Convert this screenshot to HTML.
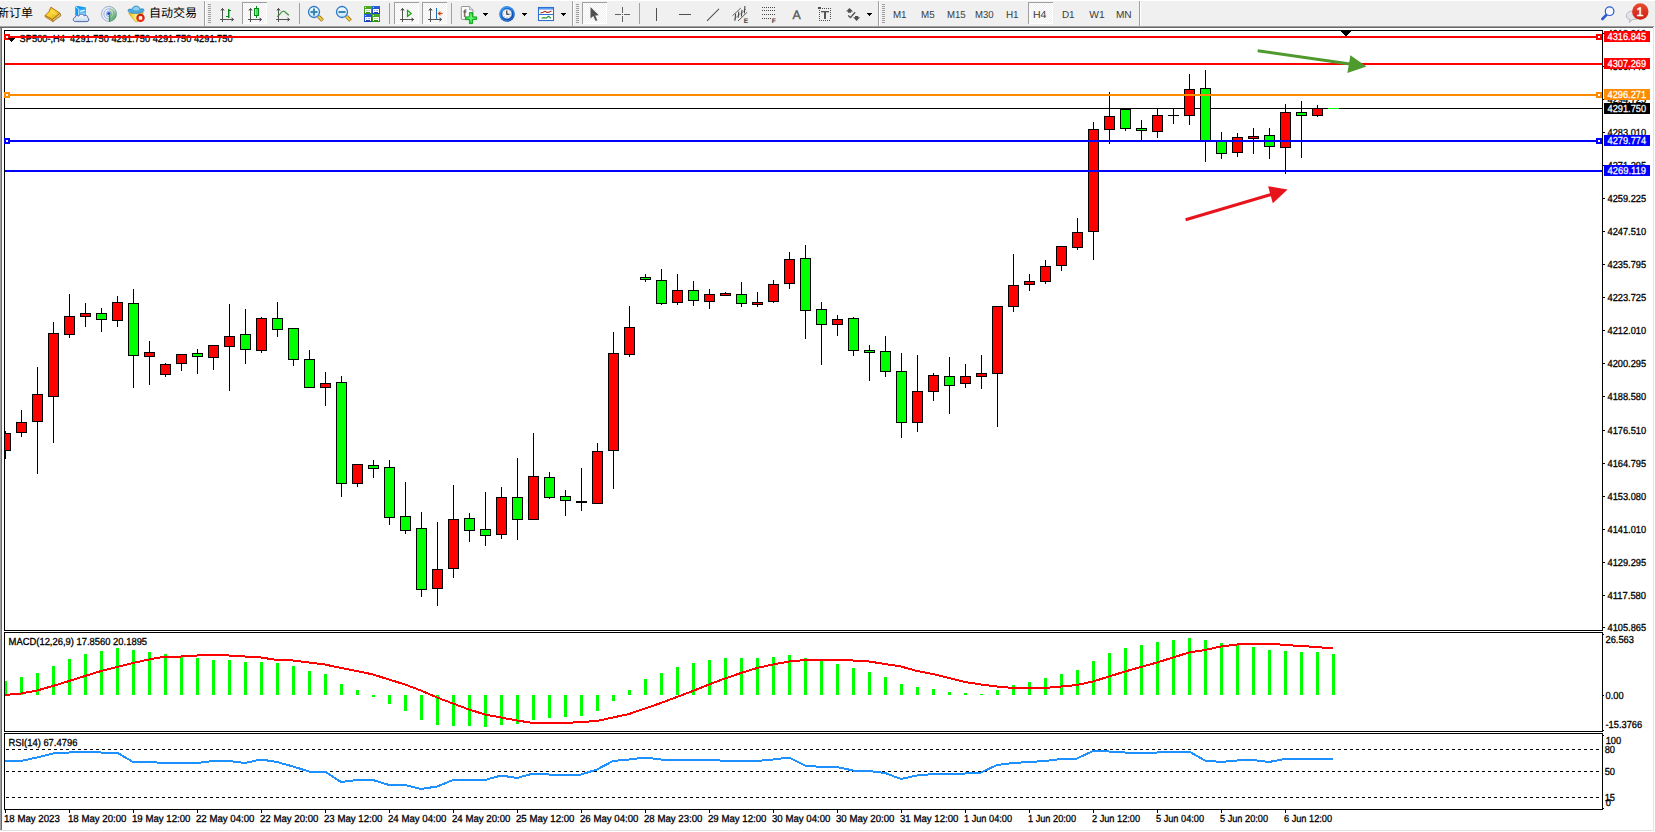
<!DOCTYPE html>
<html lang="zh"><head><meta charset="utf-8"><title>SP500 H4</title>
<style>html,body{margin:0;padding:0;background:#fff;overflow:hidden}body{width:1655px;height:832px;position:relative}svg{position:absolute;left:0;top:0;display:block}text{font-family:"Liberation Sans","Noto Sans CJK SC",sans-serif;white-space:pre;text-rendering:geometricPrecision}.cr{shape-rendering:crispEdges}</style></head><body>
<svg width="1655" height="832" viewBox="0 0 1655 832">
<rect x="0" y="0" width="1655" height="832" fill="#fff"/>
<g class="cr">
<rect x="0" y="28" width="1" height="804" fill="#a0a0a0"/>
<rect x="1" y="28" width="1" height="804" fill="#696969"/>
<rect x="1653" y="28" width="1" height="803" fill="#e3e3e3"/>
<rect x="0" y="830" width="1654" height="1" fill="#e3e3e3"/>
<rect x="0" y="831" width="1655" height="1" fill="#fff"/>
<rect x="4" y="30" width="1599" height="1" fill="#000"/>
<rect x="4" y="630" width="1599" height="1" fill="#000"/>
<rect x="4" y="30" width="1" height="601" fill="#000"/>
<rect x="1602" y="30" width="1" height="601" fill="#000"/>
<rect x="4" y="632" width="1599" height="1" fill="#000"/>
<rect x="4" y="731" width="1599" height="1" fill="#000"/>
<rect x="4" y="632" width="1" height="100" fill="#000"/>
<rect x="1602" y="632" width="1" height="100" fill="#000"/>
<rect x="4" y="733" width="1599" height="1" fill="#000"/>
<rect x="4" y="809" width="1599" height="1" fill="#000"/>
<rect x="4" y="733" width="1" height="77" fill="#000"/>
<rect x="1602" y="733" width="1" height="77" fill="#000"/>
<rect x="5" y="108" width="1598" height="1" fill="#000"/>
<rect x="5" y="431" width="1" height="28" fill="#000"/>
<rect x="0" y="433" width="11" height="18" fill="#000"/>
<rect x="1" y="434" width="9" height="16" fill="#ff0000"/>
<rect x="21" y="410" width="1" height="27" fill="#000"/>
<rect x="16" y="422" width="11" height="11" fill="#000"/>
<rect x="17" y="423" width="9" height="9" fill="#ff0000"/>
<rect x="37" y="367" width="1" height="107" fill="#000"/>
<rect x="32" y="394" width="11" height="28" fill="#000"/>
<rect x="33" y="395" width="9" height="26" fill="#ff0000"/>
<rect x="53" y="322" width="1" height="121" fill="#000"/>
<rect x="48" y="333" width="11" height="64" fill="#000"/>
<rect x="49" y="334" width="9" height="62" fill="#ff0000"/>
<rect x="69" y="294" width="1" height="44" fill="#000"/>
<rect x="64" y="316" width="11" height="19" fill="#000"/>
<rect x="65" y="317" width="9" height="17" fill="#ff0000"/>
<rect x="85" y="303" width="1" height="24" fill="#000"/>
<rect x="80" y="313" width="11" height="4" fill="#000"/>
<rect x="81" y="314" width="9" height="2" fill="#ff0000"/>
<rect x="101" y="308" width="1" height="24" fill="#000"/>
<rect x="96" y="313" width="11" height="7" fill="#000"/>
<rect x="97" y="314" width="9" height="5" fill="#00ff00"/>
<rect x="117" y="296" width="1" height="31" fill="#000"/>
<rect x="112" y="302" width="11" height="19" fill="#000"/>
<rect x="113" y="303" width="9" height="17" fill="#ff0000"/>
<rect x="133" y="289" width="1" height="99" fill="#000"/>
<rect x="128" y="303" width="11" height="53" fill="#000"/>
<rect x="129" y="304" width="9" height="51" fill="#00ff00"/>
<rect x="149" y="341" width="1" height="44" fill="#000"/>
<rect x="144" y="352" width="11" height="5" fill="#000"/>
<rect x="145" y="353" width="9" height="3" fill="#ff0000"/>
<rect x="165" y="363" width="1" height="14" fill="#000"/>
<rect x="160" y="364" width="11" height="11" fill="#000"/>
<rect x="161" y="365" width="9" height="9" fill="#ff0000"/>
<rect x="181" y="354" width="1" height="17" fill="#000"/>
<rect x="176" y="354" width="11" height="10" fill="#000"/>
<rect x="177" y="355" width="9" height="8" fill="#ff0000"/>
<rect x="197" y="349" width="1" height="25" fill="#000"/>
<rect x="192" y="353" width="11" height="4" fill="#000"/>
<rect x="193" y="354" width="9" height="2" fill="#00ff00"/>
<rect x="213" y="345" width="1" height="25" fill="#000"/>
<rect x="208" y="345" width="11" height="13" fill="#000"/>
<rect x="209" y="346" width="9" height="11" fill="#ff0000"/>
<rect x="229" y="304" width="1" height="87" fill="#000"/>
<rect x="224" y="336" width="11" height="11" fill="#000"/>
<rect x="225" y="337" width="9" height="9" fill="#ff0000"/>
<rect x="245" y="309" width="1" height="55" fill="#000"/>
<rect x="240" y="334" width="11" height="16" fill="#000"/>
<rect x="241" y="335" width="9" height="14" fill="#00ff00"/>
<rect x="261" y="317" width="1" height="36" fill="#000"/>
<rect x="256" y="318" width="11" height="33" fill="#000"/>
<rect x="257" y="319" width="9" height="31" fill="#ff0000"/>
<rect x="277" y="302" width="1" height="35" fill="#000"/>
<rect x="272" y="318" width="11" height="12" fill="#000"/>
<rect x="273" y="319" width="9" height="10" fill="#00ff00"/>
<rect x="293" y="328" width="1" height="38" fill="#000"/>
<rect x="288" y="328" width="11" height="32" fill="#000"/>
<rect x="289" y="329" width="9" height="30" fill="#00ff00"/>
<rect x="309" y="350" width="1" height="38" fill="#000"/>
<rect x="304" y="359" width="11" height="29" fill="#000"/>
<rect x="305" y="360" width="9" height="27" fill="#00ff00"/>
<rect x="325" y="372" width="1" height="34" fill="#000"/>
<rect x="320" y="383" width="11" height="5" fill="#000"/>
<rect x="321" y="384" width="9" height="3" fill="#ff0000"/>
<rect x="341" y="376" width="1" height="121" fill="#000"/>
<rect x="336" y="382" width="11" height="102" fill="#000"/>
<rect x="337" y="383" width="9" height="100" fill="#00ff00"/>
<rect x="357" y="464" width="1" height="23" fill="#000"/>
<rect x="352" y="464" width="11" height="20" fill="#000"/>
<rect x="353" y="465" width="9" height="18" fill="#ff0000"/>
<rect x="373" y="460" width="1" height="18" fill="#000"/>
<rect x="368" y="465" width="11" height="4" fill="#000"/>
<rect x="369" y="466" width="9" height="2" fill="#00ff00"/>
<rect x="389" y="460" width="1" height="65" fill="#000"/>
<rect x="384" y="467" width="11" height="51" fill="#000"/>
<rect x="385" y="468" width="9" height="49" fill="#00ff00"/>
<rect x="405" y="482" width="1" height="52" fill="#000"/>
<rect x="400" y="516" width="11" height="15" fill="#000"/>
<rect x="401" y="517" width="9" height="13" fill="#00ff00"/>
<rect x="421" y="512" width="1" height="85" fill="#000"/>
<rect x="416" y="528" width="11" height="62" fill="#000"/>
<rect x="417" y="529" width="9" height="60" fill="#00ff00"/>
<rect x="437" y="522" width="1" height="84" fill="#000"/>
<rect x="432" y="569" width="11" height="20" fill="#000"/>
<rect x="433" y="570" width="9" height="18" fill="#ff0000"/>
<rect x="453" y="485" width="1" height="93" fill="#000"/>
<rect x="448" y="519" width="11" height="50" fill="#000"/>
<rect x="449" y="520" width="9" height="48" fill="#ff0000"/>
<rect x="469" y="513" width="1" height="29" fill="#000"/>
<rect x="464" y="518" width="11" height="13" fill="#000"/>
<rect x="465" y="519" width="9" height="11" fill="#00ff00"/>
<rect x="485" y="492" width="1" height="54" fill="#000"/>
<rect x="480" y="529" width="11" height="7" fill="#000"/>
<rect x="481" y="530" width="9" height="5" fill="#00ff00"/>
<rect x="501" y="487" width="1" height="52" fill="#000"/>
<rect x="496" y="497" width="11" height="38" fill="#000"/>
<rect x="497" y="498" width="9" height="36" fill="#ff0000"/>
<rect x="517" y="458" width="1" height="82" fill="#000"/>
<rect x="512" y="497" width="11" height="23" fill="#000"/>
<rect x="513" y="498" width="9" height="21" fill="#00ff00"/>
<rect x="533" y="433" width="1" height="87" fill="#000"/>
<rect x="528" y="476" width="11" height="44" fill="#000"/>
<rect x="529" y="477" width="9" height="42" fill="#ff0000"/>
<rect x="549" y="472" width="1" height="27" fill="#000"/>
<rect x="544" y="477" width="11" height="21" fill="#000"/>
<rect x="545" y="478" width="9" height="19" fill="#00ff00"/>
<rect x="565" y="490" width="1" height="26" fill="#000"/>
<rect x="560" y="496" width="11" height="5" fill="#000"/>
<rect x="561" y="497" width="9" height="3" fill="#00ff00"/>
<rect x="581" y="468" width="1" height="43" fill="#000"/>
<rect x="576" y="501" width="11" height="2" fill="#000"/>
<rect x="597" y="443" width="1" height="61" fill="#000"/>
<rect x="592" y="451" width="11" height="53" fill="#000"/>
<rect x="593" y="452" width="9" height="51" fill="#ff0000"/>
<rect x="613" y="332" width="1" height="157" fill="#000"/>
<rect x="608" y="353" width="11" height="98" fill="#000"/>
<rect x="609" y="354" width="9" height="96" fill="#ff0000"/>
<rect x="629" y="306" width="1" height="51" fill="#000"/>
<rect x="624" y="327" width="11" height="28" fill="#000"/>
<rect x="625" y="328" width="9" height="26" fill="#ff0000"/>
<rect x="645" y="274" width="1" height="8" fill="#000"/>
<rect x="640" y="277" width="11" height="3" fill="#000"/>
<rect x="641" y="278" width="9" height="1" fill="#00ff00"/>
<rect x="661" y="269" width="1" height="36" fill="#000"/>
<rect x="656" y="280" width="11" height="24" fill="#000"/>
<rect x="657" y="281" width="9" height="22" fill="#00ff00"/>
<rect x="677" y="274" width="1" height="31" fill="#000"/>
<rect x="672" y="290" width="11" height="13" fill="#000"/>
<rect x="673" y="291" width="9" height="11" fill="#ff0000"/>
<rect x="693" y="281" width="1" height="25" fill="#000"/>
<rect x="688" y="290" width="11" height="11" fill="#000"/>
<rect x="689" y="291" width="9" height="9" fill="#00ff00"/>
<rect x="709" y="289" width="1" height="20" fill="#000"/>
<rect x="704" y="294" width="11" height="8" fill="#000"/>
<rect x="705" y="295" width="9" height="6" fill="#ff0000"/>
<rect x="725" y="292" width="1" height="4" fill="#000"/>
<rect x="720" y="293" width="11" height="3" fill="#000"/>
<rect x="721" y="294" width="9" height="1" fill="#ff0000"/>
<rect x="741" y="282" width="1" height="25" fill="#000"/>
<rect x="736" y="294" width="11" height="10" fill="#000"/>
<rect x="737" y="295" width="9" height="8" fill="#00ff00"/>
<rect x="757" y="292" width="1" height="15" fill="#000"/>
<rect x="752" y="302" width="11" height="3" fill="#000"/>
<rect x="753" y="303" width="9" height="1" fill="#ff0000"/>
<rect x="773" y="280" width="1" height="23" fill="#000"/>
<rect x="768" y="284" width="11" height="18" fill="#000"/>
<rect x="769" y="285" width="9" height="16" fill="#ff0000"/>
<rect x="789" y="252" width="1" height="37" fill="#000"/>
<rect x="784" y="259" width="11" height="25" fill="#000"/>
<rect x="785" y="260" width="9" height="23" fill="#ff0000"/>
<rect x="805" y="245" width="1" height="94" fill="#000"/>
<rect x="800" y="258" width="11" height="53" fill="#000"/>
<rect x="801" y="259" width="9" height="51" fill="#00ff00"/>
<rect x="821" y="302" width="1" height="63" fill="#000"/>
<rect x="816" y="309" width="11" height="16" fill="#000"/>
<rect x="817" y="310" width="9" height="14" fill="#00ff00"/>
<rect x="837" y="315" width="1" height="21" fill="#000"/>
<rect x="832" y="319" width="11" height="6" fill="#000"/>
<rect x="833" y="320" width="9" height="4" fill="#ff0000"/>
<rect x="853" y="317" width="1" height="39" fill="#000"/>
<rect x="848" y="318" width="11" height="33" fill="#000"/>
<rect x="849" y="319" width="9" height="31" fill="#00ff00"/>
<rect x="869" y="345" width="1" height="36" fill="#000"/>
<rect x="864" y="350" width="11" height="3" fill="#000"/>
<rect x="865" y="351" width="9" height="1" fill="#00ff00"/>
<rect x="885" y="336" width="1" height="41" fill="#000"/>
<rect x="880" y="351" width="11" height="21" fill="#000"/>
<rect x="881" y="352" width="9" height="19" fill="#00ff00"/>
<rect x="901" y="353" width="1" height="85" fill="#000"/>
<rect x="896" y="371" width="11" height="52" fill="#000"/>
<rect x="897" y="372" width="9" height="50" fill="#00ff00"/>
<rect x="917" y="355" width="1" height="77" fill="#000"/>
<rect x="912" y="391" width="11" height="32" fill="#000"/>
<rect x="913" y="392" width="9" height="30" fill="#ff0000"/>
<rect x="933" y="373" width="1" height="28" fill="#000"/>
<rect x="928" y="375" width="11" height="17" fill="#000"/>
<rect x="929" y="376" width="9" height="15" fill="#ff0000"/>
<rect x="949" y="357" width="1" height="57" fill="#000"/>
<rect x="944" y="376" width="11" height="10" fill="#000"/>
<rect x="945" y="377" width="9" height="8" fill="#00ff00"/>
<rect x="965" y="364" width="1" height="24" fill="#000"/>
<rect x="960" y="376" width="11" height="8" fill="#000"/>
<rect x="961" y="377" width="9" height="6" fill="#ff0000"/>
<rect x="981" y="355" width="1" height="34" fill="#000"/>
<rect x="976" y="373" width="11" height="4" fill="#000"/>
<rect x="977" y="374" width="9" height="2" fill="#ff0000"/>
<rect x="997" y="306" width="1" height="121" fill="#000"/>
<rect x="992" y="306" width="11" height="68" fill="#000"/>
<rect x="993" y="307" width="9" height="66" fill="#ff0000"/>
<rect x="1013" y="254" width="1" height="58" fill="#000"/>
<rect x="1008" y="285" width="11" height="22" fill="#000"/>
<rect x="1009" y="286" width="9" height="20" fill="#ff0000"/>
<rect x="1029" y="274" width="1" height="17" fill="#000"/>
<rect x="1024" y="281" width="11" height="4" fill="#000"/>
<rect x="1025" y="282" width="9" height="2" fill="#ff0000"/>
<rect x="1045" y="260" width="1" height="24" fill="#000"/>
<rect x="1040" y="266" width="11" height="16" fill="#000"/>
<rect x="1041" y="267" width="9" height="14" fill="#ff0000"/>
<rect x="1061" y="246" width="1" height="25" fill="#000"/>
<rect x="1056" y="246" width="11" height="20" fill="#000"/>
<rect x="1057" y="247" width="9" height="18" fill="#ff0000"/>
<rect x="1077" y="218" width="1" height="32" fill="#000"/>
<rect x="1072" y="232" width="11" height="16" fill="#000"/>
<rect x="1073" y="233" width="9" height="14" fill="#ff0000"/>
<rect x="1093" y="122" width="1" height="138" fill="#000"/>
<rect x="1088" y="129" width="11" height="103" fill="#000"/>
<rect x="1089" y="130" width="9" height="101" fill="#ff0000"/>
<rect x="1109" y="92" width="1" height="52" fill="#000"/>
<rect x="1104" y="116" width="11" height="14" fill="#000"/>
<rect x="1105" y="117" width="9" height="12" fill="#ff0000"/>
<rect x="1125" y="109" width="1" height="22" fill="#000"/>
<rect x="1120" y="109" width="11" height="20" fill="#000"/>
<rect x="1121" y="110" width="9" height="18" fill="#00ff00"/>
<rect x="1141" y="120" width="1" height="21" fill="#000"/>
<rect x="1136" y="128" width="11" height="3" fill="#000"/>
<rect x="1137" y="129" width="9" height="1" fill="#00ff00"/>
<rect x="1157" y="108" width="1" height="30" fill="#000"/>
<rect x="1152" y="115" width="11" height="17" fill="#000"/>
<rect x="1153" y="116" width="9" height="15" fill="#ff0000"/>
<rect x="1173" y="108" width="1" height="16" fill="#000"/>
<rect x="1168" y="115" width="11" height="1" fill="#000"/>
<rect x="1189" y="74" width="1" height="51" fill="#000"/>
<rect x="1184" y="89" width="11" height="27" fill="#000"/>
<rect x="1185" y="90" width="9" height="25" fill="#ff0000"/>
<rect x="1205" y="70" width="1" height="92" fill="#000"/>
<rect x="1200" y="88" width="11" height="53" fill="#000"/>
<rect x="1201" y="89" width="9" height="51" fill="#00ff00"/>
<rect x="1221" y="132" width="1" height="27" fill="#000"/>
<rect x="1216" y="140" width="11" height="14" fill="#000"/>
<rect x="1217" y="141" width="9" height="12" fill="#00ff00"/>
<rect x="1237" y="133" width="1" height="24" fill="#000"/>
<rect x="1232" y="137" width="11" height="16" fill="#000"/>
<rect x="1233" y="138" width="9" height="14" fill="#ff0000"/>
<rect x="1253" y="128" width="1" height="26" fill="#000"/>
<rect x="1248" y="136" width="11" height="3" fill="#000"/>
<rect x="1249" y="137" width="9" height="1" fill="#ff0000"/>
<rect x="1269" y="128" width="1" height="31" fill="#000"/>
<rect x="1264" y="135" width="11" height="12" fill="#000"/>
<rect x="1265" y="136" width="9" height="10" fill="#00ff00"/>
<rect x="1285" y="104" width="1" height="70" fill="#000"/>
<rect x="1280" y="112" width="11" height="36" fill="#000"/>
<rect x="1281" y="113" width="9" height="34" fill="#ff0000"/>
<rect x="1301" y="101" width="1" height="57" fill="#000"/>
<rect x="1296" y="112" width="11" height="4" fill="#000"/>
<rect x="1297" y="113" width="9" height="2" fill="#00ff00"/>
<rect x="1317" y="105" width="1" height="12" fill="#000"/>
<rect x="1312" y="108" width="11" height="8" fill="#000"/>
<rect x="1313" y="109" width="9" height="6" fill="#ff0000"/>
<rect x="1333" y="108" width="1" height="1" fill="#000"/>
<rect x="1328" y="108" width="11" height="1" fill="#00ff00"/>
<rect x="0" y="400" width="1" height="71" fill="#a0a0a0"/>
<rect x="1" y="400" width="1" height="71" fill="#696969"/>
<rect x="2" y="400" width="2" height="71" fill="#fff"/>
<rect x="4" y="400" width="1" height="71" fill="#000"/>
<rect x="5" y="36" width="1597" height="2" fill="#ff0000"/>
<rect x="5" y="63" width="1597" height="2" fill="#ff0000"/>
<rect x="5" y="94" width="1597" height="2" fill="#ff8c00"/>
<rect x="5" y="140" width="1597" height="2" fill="#0000ff"/>
<rect x="5" y="170" width="1597" height="2" fill="#0000ff"/>
</g>
<g class="cr">
<rect x="1603" y="33" width="2" height="1" fill="#000"/>
<rect x="1603" y="66" width="2" height="1" fill="#000"/>
<rect x="1603" y="99" width="2" height="1" fill="#000"/>
<rect x="1603" y="132" width="2" height="1" fill="#000"/>
<rect x="1603" y="165" width="2" height="1" fill="#000"/>
<rect x="1603" y="198" width="2" height="1" fill="#000"/>
<rect x="1603" y="231" width="2" height="1" fill="#000"/>
<rect x="1603" y="264" width="2" height="1" fill="#000"/>
<rect x="1603" y="297" width="2" height="1" fill="#000"/>
<rect x="1603" y="330" width="2" height="1" fill="#000"/>
<rect x="1603" y="363" width="2" height="1" fill="#000"/>
<rect x="1603" y="396" width="2" height="1" fill="#000"/>
<rect x="1603" y="430" width="2" height="1" fill="#000"/>
<rect x="1603" y="463" width="2" height="1" fill="#000"/>
<rect x="1603" y="496" width="2" height="1" fill="#000"/>
<rect x="1603" y="529" width="2" height="1" fill="#000"/>
<rect x="1603" y="562" width="2" height="1" fill="#000"/>
<rect x="1603" y="595" width="2" height="1" fill="#000"/>
<rect x="1603" y="627" width="2" height="1" fill="#000"/>
</g>
<text x="1607.5" y="37" fill="#000" font-size="10.2" text-anchor="start" textLength="38.6" lengthAdjust="spacingAndGlyphs" stroke="#000" stroke-width="0.3">4318.210</text>
<text x="1607.5" y="70" fill="#000" font-size="10.2" text-anchor="start" textLength="38.6" lengthAdjust="spacingAndGlyphs" stroke="#000" stroke-width="0.3">4306.440</text>
<text x="1607.5" y="103" fill="#000" font-size="10.2" text-anchor="start" textLength="38.6" lengthAdjust="spacingAndGlyphs" stroke="#000" stroke-width="0.3">4294.725</text>
<text x="1607.5" y="136" fill="#000" font-size="10.2" text-anchor="start" textLength="38.6" lengthAdjust="spacingAndGlyphs" stroke="#000" stroke-width="0.3">4283.010</text>
<text x="1607.5" y="169" fill="#000" font-size="10.2" text-anchor="start" textLength="38.6" lengthAdjust="spacingAndGlyphs" stroke="#000" stroke-width="0.3">4271.295</text>
<text x="1607.5" y="202" fill="#000" font-size="10.2" text-anchor="start" textLength="38.6" lengthAdjust="spacingAndGlyphs" stroke="#000" stroke-width="0.3">4259.225</text>
<text x="1607.5" y="235" fill="#000" font-size="10.2" text-anchor="start" textLength="38.6" lengthAdjust="spacingAndGlyphs" stroke="#000" stroke-width="0.3">4247.510</text>
<text x="1607.5" y="268" fill="#000" font-size="10.2" text-anchor="start" textLength="38.6" lengthAdjust="spacingAndGlyphs" stroke="#000" stroke-width="0.3">4235.795</text>
<text x="1607.5" y="301" fill="#000" font-size="10.2" text-anchor="start" textLength="38.6" lengthAdjust="spacingAndGlyphs" stroke="#000" stroke-width="0.3">4223.725</text>
<text x="1607.5" y="334" fill="#000" font-size="10.2" text-anchor="start" textLength="38.6" lengthAdjust="spacingAndGlyphs" stroke="#000" stroke-width="0.3">4212.010</text>
<text x="1607.5" y="367" fill="#000" font-size="10.2" text-anchor="start" textLength="38.6" lengthAdjust="spacingAndGlyphs" stroke="#000" stroke-width="0.3">4200.295</text>
<text x="1607.5" y="400" fill="#000" font-size="10.2" text-anchor="start" textLength="38.6" lengthAdjust="spacingAndGlyphs" stroke="#000" stroke-width="0.3">4188.580</text>
<text x="1607.5" y="434" fill="#000" font-size="10.2" text-anchor="start" textLength="38.6" lengthAdjust="spacingAndGlyphs" stroke="#000" stroke-width="0.3">4176.510</text>
<text x="1607.5" y="467" fill="#000" font-size="10.2" text-anchor="start" textLength="38.6" lengthAdjust="spacingAndGlyphs" stroke="#000" stroke-width="0.3">4164.795</text>
<text x="1607.5" y="500" fill="#000" font-size="10.2" text-anchor="start" textLength="38.6" lengthAdjust="spacingAndGlyphs" stroke="#000" stroke-width="0.3">4153.080</text>
<text x="1607.5" y="533" fill="#000" font-size="10.2" text-anchor="start" textLength="38.6" lengthAdjust="spacingAndGlyphs" stroke="#000" stroke-width="0.3">4141.010</text>
<text x="1607.5" y="566" fill="#000" font-size="10.2" text-anchor="start" textLength="38.6" lengthAdjust="spacingAndGlyphs" stroke="#000" stroke-width="0.3">4129.295</text>
<text x="1607.5" y="599" fill="#000" font-size="10.2" text-anchor="start" textLength="38.6" lengthAdjust="spacingAndGlyphs" stroke="#000" stroke-width="0.3">4117.580</text>
<text x="1607.5" y="631" fill="#000" font-size="10.2" text-anchor="start" textLength="38.6" lengthAdjust="spacingAndGlyphs" stroke="#000" stroke-width="0.3">4105.865</text>
<g class="cr">
<rect x="4" y="34" width="6" height="6" fill="#ff0000"/>
<rect x="6" y="36" width="2" height="2" fill="#fff"/>
<rect x="1596" y="34" width="6" height="6" fill="#ff0000"/>
<rect x="1598" y="36" width="2" height="2" fill="#fff"/>
<rect x="1604" y="31" width="46" height="11" fill="#ff0000"/>
<rect x="1604" y="58" width="46" height="11" fill="#ff0000"/>
<rect x="4" y="92" width="6" height="6" fill="#ff8c00"/>
<rect x="6" y="94" width="2" height="2" fill="#fff"/>
<rect x="1596" y="92" width="6" height="6" fill="#ff8c00"/>
<rect x="1598" y="94" width="2" height="2" fill="#fff"/>
<rect x="1604" y="89" width="46" height="11" fill="#ff8c00"/>
<rect x="4" y="138" width="6" height="6" fill="#0000ff"/>
<rect x="6" y="140" width="2" height="2" fill="#fff"/>
<rect x="1596" y="138" width="6" height="6" fill="#0000ff"/>
<rect x="1598" y="140" width="2" height="2" fill="#fff"/>
<rect x="1604" y="135" width="46" height="11" fill="#0000ff"/>
<rect x="1604" y="165" width="46" height="11" fill="#0000ff"/>
<rect x="1604" y="103" width="46" height="11" fill="#000"/>
<rect x="1341" y="31" width="10" height="1" fill="#000"/>
<rect x="1342" y="32" width="8" height="1" fill="#000"/>
<rect x="1343" y="33" width="6" height="1" fill="#000"/>
<rect x="1344" y="34" width="4" height="1" fill="#000"/>
<rect x="1345" y="35" width="2" height="1" fill="#000"/>
</g>
<text x="1607.5" y="40" fill="#fff" font-size="10.2" text-anchor="start" textLength="38.6" lengthAdjust="spacingAndGlyphs" stroke="#fff" stroke-width="0.25">4316.845</text>
<text x="1607.5" y="67" fill="#fff" font-size="10.2" text-anchor="start" textLength="38.6" lengthAdjust="spacingAndGlyphs" stroke="#fff" stroke-width="0.25">4307.269</text>
<text x="1607.5" y="98" fill="#fff" font-size="10.2" text-anchor="start" textLength="38.6" lengthAdjust="spacingAndGlyphs" stroke="#fff" stroke-width="0.25">4296.271</text>
<text x="1607.5" y="144" fill="#fff" font-size="10.2" text-anchor="start" textLength="38.6" lengthAdjust="spacingAndGlyphs" stroke="#fff" stroke-width="0.25">4279.774</text>
<text x="1607.5" y="174" fill="#fff" font-size="10.2" text-anchor="start" textLength="38.6" lengthAdjust="spacingAndGlyphs" stroke="#fff" stroke-width="0.25">4269.119</text>
<text x="1607.5" y="112" fill="#fff" font-size="10.2" text-anchor="start" textLength="38.6" lengthAdjust="spacingAndGlyphs" stroke="#fff" stroke-width="0.25">4291.750</text>
<line x1="1257.7" y1="50.7" x2="1350" y2="64" stroke="#4e9a2d" stroke-width="3"/>
<polygon points="1350.4,55.2 1366.5,66.4 1347.4,72.9" fill="#4e9a2d"/>
<line x1="1185.6" y1="219.7" x2="1271" y2="194.5" stroke="#e8141c" stroke-width="3"/>
<polygon points="1268.1,186.2 1287.6,189.4 1272.8,203.3" fill="#e8141c"/>
<g class="cr">
<rect x="8" y="38" width="7" height="1" fill="#000"/>
<rect x="9" y="39" width="5" height="1" fill="#000"/>
<rect x="10" y="40" width="3" height="1" fill="#000"/>
<rect x="11" y="41" width="1" height="1" fill="#000"/>
</g>
<text x="19.6" y="42" fill="#000" font-size="10.2" text-anchor="start" textLength="213" lengthAdjust="spacingAndGlyphs" stroke="#000" stroke-width="0.3">SP500-,H4  4291.750 4291.750 4291.750 4291.750</text>
<g class="cr">
<rect x="16" y="36" width="230" height="2" fill="#ff0000"/>
</g>
<g class="cr">
<rect x="4" y="681" width="3" height="14" fill="#00ff00"/>
<rect x="20" y="677" width="3" height="18" fill="#00ff00"/>
<rect x="36" y="673" width="3" height="22" fill="#00ff00"/>
<rect x="52" y="666" width="3" height="29" fill="#00ff00"/>
<rect x="68" y="659" width="3" height="36" fill="#00ff00"/>
<rect x="84" y="654" width="3" height="41" fill="#00ff00"/>
<rect x="100" y="651" width="3" height="44" fill="#00ff00"/>
<rect x="116" y="648" width="3" height="47" fill="#00ff00"/>
<rect x="132" y="650" width="3" height="45" fill="#00ff00"/>
<rect x="148" y="652" width="3" height="43" fill="#00ff00"/>
<rect x="164" y="654" width="3" height="41" fill="#00ff00"/>
<rect x="180" y="656" width="3" height="39" fill="#00ff00"/>
<rect x="196" y="658" width="3" height="37" fill="#00ff00"/>
<rect x="212" y="660" width="3" height="35" fill="#00ff00"/>
<rect x="228" y="660" width="3" height="35" fill="#00ff00"/>
<rect x="244" y="662" width="3" height="33" fill="#00ff00"/>
<rect x="260" y="662" width="3" height="33" fill="#00ff00"/>
<rect x="276" y="663" width="3" height="32" fill="#00ff00"/>
<rect x="292" y="666" width="3" height="29" fill="#00ff00"/>
<rect x="308" y="671" width="3" height="24" fill="#00ff00"/>
<rect x="324" y="674" width="3" height="21" fill="#00ff00"/>
<rect x="340" y="684" width="3" height="11" fill="#00ff00"/>
<rect x="356" y="690" width="3" height="5" fill="#00ff00"/>
<rect x="372" y="695" width="3" height="2" fill="#00ff00"/>
<rect x="388" y="695" width="3" height="9" fill="#00ff00"/>
<rect x="404" y="695" width="3" height="16" fill="#00ff00"/>
<rect x="420" y="695" width="3" height="25" fill="#00ff00"/>
<rect x="436" y="695" width="3" height="30" fill="#00ff00"/>
<rect x="452" y="695" width="3" height="31" fill="#00ff00"/>
<rect x="468" y="695" width="3" height="31" fill="#00ff00"/>
<rect x="484" y="695" width="3" height="32" fill="#00ff00"/>
<rect x="500" y="695" width="3" height="30" fill="#00ff00"/>
<rect x="516" y="695" width="3" height="29" fill="#00ff00"/>
<rect x="532" y="695" width="3" height="25" fill="#00ff00"/>
<rect x="548" y="695" width="3" height="23" fill="#00ff00"/>
<rect x="564" y="695" width="3" height="22" fill="#00ff00"/>
<rect x="580" y="695" width="3" height="21" fill="#00ff00"/>
<rect x="596" y="695" width="3" height="16" fill="#00ff00"/>
<rect x="612" y="695" width="3" height="6" fill="#00ff00"/>
<rect x="628" y="690" width="3" height="5" fill="#00ff00"/>
<rect x="644" y="679" width="3" height="16" fill="#00ff00"/>
<rect x="660" y="673" width="3" height="22" fill="#00ff00"/>
<rect x="676" y="667" width="3" height="28" fill="#00ff00"/>
<rect x="692" y="663" width="3" height="32" fill="#00ff00"/>
<rect x="708" y="660" width="3" height="35" fill="#00ff00"/>
<rect x="724" y="658" width="3" height="37" fill="#00ff00"/>
<rect x="740" y="658" width="3" height="37" fill="#00ff00"/>
<rect x="756" y="658" width="3" height="37" fill="#00ff00"/>
<rect x="772" y="657" width="3" height="38" fill="#00ff00"/>
<rect x="788" y="655" width="3" height="40" fill="#00ff00"/>
<rect x="804" y="658" width="3" height="37" fill="#00ff00"/>
<rect x="820" y="661" width="3" height="34" fill="#00ff00"/>
<rect x="836" y="664" width="3" height="31" fill="#00ff00"/>
<rect x="852" y="668" width="3" height="27" fill="#00ff00"/>
<rect x="868" y="672" width="3" height="23" fill="#00ff00"/>
<rect x="884" y="677" width="3" height="18" fill="#00ff00"/>
<rect x="900" y="684" width="3" height="11" fill="#00ff00"/>
<rect x="916" y="687" width="3" height="8" fill="#00ff00"/>
<rect x="932" y="689" width="3" height="6" fill="#00ff00"/>
<rect x="948" y="692" width="3" height="3" fill="#00ff00"/>
<rect x="964" y="693" width="3" height="2" fill="#00ff00"/>
<rect x="980" y="694" width="3" height="1" fill="#00ff00"/>
<rect x="996" y="690" width="3" height="5" fill="#00ff00"/>
<rect x="1012" y="685" width="3" height="10" fill="#00ff00"/>
<rect x="1028" y="682" width="3" height="13" fill="#00ff00"/>
<rect x="1044" y="678" width="3" height="17" fill="#00ff00"/>
<rect x="1060" y="674" width="3" height="21" fill="#00ff00"/>
<rect x="1076" y="670" width="3" height="25" fill="#00ff00"/>
<rect x="1092" y="661" width="3" height="34" fill="#00ff00"/>
<rect x="1108" y="653" width="3" height="42" fill="#00ff00"/>
<rect x="1124" y="648" width="3" height="47" fill="#00ff00"/>
<rect x="1140" y="645" width="3" height="50" fill="#00ff00"/>
<rect x="1156" y="642" width="3" height="53" fill="#00ff00"/>
<rect x="1172" y="640" width="3" height="55" fill="#00ff00"/>
<rect x="1188" y="638" width="3" height="57" fill="#00ff00"/>
<rect x="1204" y="640" width="3" height="55" fill="#00ff00"/>
<rect x="1220" y="643" width="3" height="52" fill="#00ff00"/>
<rect x="1236" y="645" width="3" height="50" fill="#00ff00"/>
<rect x="1252" y="647" width="3" height="48" fill="#00ff00"/>
<rect x="1268" y="650" width="3" height="45" fill="#00ff00"/>
<rect x="1284" y="651" width="3" height="44" fill="#00ff00"/>
<rect x="1300" y="652" width="3" height="43" fill="#00ff00"/>
<rect x="1316" y="652" width="3" height="43" fill="#00ff00"/>
<rect x="1332" y="654" width="3" height="41" fill="#00ff00"/>
</g>
<polyline class="cr" points="5,695.0 21,693.5 37,690.5 53,686.0 69,681.0 85,676.0 101,671.0 117,667.0 133,663.0 149,659.5 165,656.5 181,656.5 197,655.5 213,654.5 229,655.5 245,656.5 261,657.5 277,660.0 293,660.5 309,662.5 325,664.5 341,668.0 357,671.0 373,674.5 389,679.5 405,684.5 421,690.5 437,697.5 453,703.5 469,709.5 485,714.5 501,717.5 517,720.5 533,723.0 549,723.5 565,723.0 581,722.0 597,721.0 613,717.5 629,714.0 645,708.5 661,703.0 677,697.0 693,691.0 709,684.5 725,678.5 741,673.0 757,668.0 773,664.5 789,661.5 805,660.0 821,659.5 837,659.5 853,660.5 869,661.5 885,664.0 901,666.5 917,671.0 933,674.0 949,678.0 965,682.0 981,684.5 997,686.5 1013,688.0 1029,688.5 1045,688.0 1061,686.5 1077,685.0 1093,681.5 1109,676.5 1125,671.5 1141,667.0 1157,662.5 1173,657.5 1189,652.5 1205,650.0 1221,646.5 1237,644.5 1253,644.0 1269,643.5 1285,645.0 1301,646.0 1317,647.0 1333,648.5" fill="none" stroke="#ff0000" stroke-width="2" stroke-linejoin="round"/>
<g class="cr">
<rect x="4" y="632" width="1" height="100" fill="#000"/>
</g>
<text x="8.6" y="645" fill="#000" font-size="10.2" text-anchor="start" textLength="138.5" lengthAdjust="spacingAndGlyphs" stroke="#000" stroke-width="0.3">MACD(12,26,9) 17.8560 20.1895</text>
<text x="1605.5" y="643" fill="#000" font-size="10.2" text-anchor="start" textLength="28.45" lengthAdjust="spacingAndGlyphs" stroke="#000" stroke-width="0.3">26.563</text>
<text x="1605.5" y="699" fill="#000" font-size="10.2" text-anchor="start" textLength="18.1" lengthAdjust="spacingAndGlyphs" stroke="#000" stroke-width="0.3">0.00</text>
<text x="1605.5" y="728" fill="#000" font-size="10.2" text-anchor="start" textLength="36.72" lengthAdjust="spacingAndGlyphs" stroke="#000" stroke-width="0.3">-15.3766</text>
<g class="cr">
<rect x="1603" y="634" width="1" height="1" fill="#000"/>
<rect x="1603" y="695" width="1" height="1" fill="#000"/>
<rect x="1603" y="730" width="1" height="1" fill="#000"/>
</g>
<g class="cr">
<line x1="6" y1="749.5" x2="1602" y2="749.5" stroke="#000" stroke-width="1" stroke-dasharray="3 3"/>
<line x1="6" y1="771.5" x2="1602" y2="771.5" stroke="#000" stroke-width="1" stroke-dasharray="3 3"/>
<line x1="6" y1="797.5" x2="1602" y2="797.5" stroke="#000" stroke-width="1" stroke-dasharray="3 3"/>
</g>
<polyline class="cr" points="5,761 21,761 37,757.5 53,753.5 69,752.5 85,751.5 101,752.5 117,752.5 133,762 149,762 165,763 181,763 197,763 213,761 229,761 245,763 261,759.5 277,762 293,766.5 309,771.5 325,771.5 341,782 357,780 373,780 389,785 405,785 421,789 437,786.5 453,780 469,780 485,780 501,775.5 517,778 533,773.5 549,774.5 565,774.5 581,774.5 597,769.5 613,761 629,759.5 645,757.5 661,759.5 677,759.5 693,759.5 709,759.5 725,761 741,761 757,761 773,759.5 789,757.5 805,765.5 821,767 837,767 853,770.5 869,771 885,773 901,779 917,775.5 933,774 949,774 965,773.5 981,772.5 997,765 1013,763 1029,762 1045,761 1061,759 1077,758.5 1093,751 1109,751.5 1125,752.5 1141,752.5 1157,752.5 1173,751.5 1189,751.5 1205,760.5 1221,762 1237,760.5 1253,760 1269,762 1285,759 1301,758.5 1317,758.5 1333,758.5" fill="none" stroke="#1e90ff" stroke-width="2" stroke-linejoin="round"/>
<g class="cr">
<rect x="4" y="733" width="1" height="77" fill="#000"/>
</g>
<text x="8.4" y="746" fill="#000" font-size="10.2" text-anchor="start" textLength="69" lengthAdjust="spacingAndGlyphs" stroke="#000" stroke-width="0.3">RSI(14) 67.4796</text>
<text x="1605.7" y="744" fill="#000" font-size="10.2" text-anchor="start" textLength="15.52" lengthAdjust="spacingAndGlyphs" stroke="#000" stroke-width="0.3">100</text>
<text x="1604.7" y="753" fill="#000" font-size="10.2" text-anchor="start" textLength="10.34" lengthAdjust="spacingAndGlyphs" stroke="#000" stroke-width="0.3">80</text>
<text x="1604.7" y="775" fill="#000" font-size="10.2" text-anchor="start" textLength="10.34" lengthAdjust="spacingAndGlyphs" stroke="#000" stroke-width="0.3">50</text>
<text x="1604.7" y="801" fill="#000" font-size="10.2" text-anchor="start" textLength="10.34" lengthAdjust="spacingAndGlyphs" stroke="#000" stroke-width="0.3">15</text>
<text x="1605.7" y="806" fill="#000" font-size="10.2" text-anchor="start" textLength="5.17" lengthAdjust="spacingAndGlyphs" stroke="#000" stroke-width="0.3">0</text>
<g class="cr">
<rect x="1603" y="735" width="1" height="1" fill="#000"/>
<rect x="1603" y="808" width="1" height="1" fill="#000"/>
<rect x="5" y="809" width="1" height="4" fill="#000"/>
<rect x="69" y="809" width="1" height="4" fill="#000"/>
<rect x="133" y="809" width="1" height="4" fill="#000"/>
<rect x="197" y="809" width="1" height="4" fill="#000"/>
<rect x="261" y="809" width="1" height="4" fill="#000"/>
<rect x="325" y="809" width="1" height="4" fill="#000"/>
<rect x="389" y="809" width="1" height="4" fill="#000"/>
<rect x="453" y="809" width="1" height="4" fill="#000"/>
<rect x="517" y="809" width="1" height="4" fill="#000"/>
<rect x="581" y="809" width="1" height="4" fill="#000"/>
<rect x="645" y="809" width="1" height="4" fill="#000"/>
<rect x="709" y="809" width="1" height="4" fill="#000"/>
<rect x="773" y="809" width="1" height="4" fill="#000"/>
<rect x="837" y="809" width="1" height="4" fill="#000"/>
<rect x="901" y="809" width="1" height="4" fill="#000"/>
<rect x="965" y="809" width="1" height="4" fill="#000"/>
<rect x="1029" y="809" width="1" height="4" fill="#000"/>
<rect x="1093" y="809" width="1" height="4" fill="#000"/>
<rect x="1157" y="809" width="1" height="4" fill="#000"/>
<rect x="1221" y="809" width="1" height="4" fill="#000"/>
<rect x="1285" y="809" width="1" height="4" fill="#000"/>
</g>
<text x="4" y="822" fill="#000" font-size="10.2" text-anchor="start" textLength="55.8" lengthAdjust="spacingAndGlyphs" stroke="#000" stroke-width="0.3">18 May 2023</text>
<text x="68" y="822" fill="#000" font-size="10.2" text-anchor="start" textLength="58.48" lengthAdjust="spacingAndGlyphs" stroke="#000" stroke-width="0.3">18 May 20:00</text>
<text x="132" y="822" fill="#000" font-size="10.2" text-anchor="start" textLength="58.48" lengthAdjust="spacingAndGlyphs" stroke="#000" stroke-width="0.3">19 May 12:00</text>
<text x="196" y="822" fill="#000" font-size="10.2" text-anchor="start" textLength="58.48" lengthAdjust="spacingAndGlyphs" stroke="#000" stroke-width="0.3">22 May 04:00</text>
<text x="260" y="822" fill="#000" font-size="10.2" text-anchor="start" textLength="58.48" lengthAdjust="spacingAndGlyphs" stroke="#000" stroke-width="0.3">22 May 20:00</text>
<text x="324" y="822" fill="#000" font-size="10.2" text-anchor="start" textLength="58.48" lengthAdjust="spacingAndGlyphs" stroke="#000" stroke-width="0.3">23 May 12:00</text>
<text x="388" y="822" fill="#000" font-size="10.2" text-anchor="start" textLength="58.48" lengthAdjust="spacingAndGlyphs" stroke="#000" stroke-width="0.3">24 May 04:00</text>
<text x="452" y="822" fill="#000" font-size="10.2" text-anchor="start" textLength="58.48" lengthAdjust="spacingAndGlyphs" stroke="#000" stroke-width="0.3">24 May 20:00</text>
<text x="516" y="822" fill="#000" font-size="10.2" text-anchor="start" textLength="58.48" lengthAdjust="spacingAndGlyphs" stroke="#000" stroke-width="0.3">25 May 12:00</text>
<text x="580" y="822" fill="#000" font-size="10.2" text-anchor="start" textLength="58.48" lengthAdjust="spacingAndGlyphs" stroke="#000" stroke-width="0.3">26 May 04:00</text>
<text x="644" y="822" fill="#000" font-size="10.2" text-anchor="start" textLength="58.48" lengthAdjust="spacingAndGlyphs" stroke="#000" stroke-width="0.3">28 May 23:00</text>
<text x="708" y="822" fill="#000" font-size="10.2" text-anchor="start" textLength="58.48" lengthAdjust="spacingAndGlyphs" stroke="#000" stroke-width="0.3">29 May 12:00</text>
<text x="772" y="822" fill="#000" font-size="10.2" text-anchor="start" textLength="58.48" lengthAdjust="spacingAndGlyphs" stroke="#000" stroke-width="0.3">30 May 04:00</text>
<text x="836" y="822" fill="#000" font-size="10.2" text-anchor="start" textLength="58.48" lengthAdjust="spacingAndGlyphs" stroke="#000" stroke-width="0.3">30 May 20:00</text>
<text x="900" y="822" fill="#000" font-size="10.2" text-anchor="start" textLength="58.48" lengthAdjust="spacingAndGlyphs" stroke="#000" stroke-width="0.3">31 May 12:00</text>
<text x="964" y="822" fill="#000" font-size="10.2" text-anchor="start" textLength="48.02" lengthAdjust="spacingAndGlyphs" stroke="#000" stroke-width="0.3">1 Jun 04:00</text>
<text x="1028" y="822" fill="#000" font-size="10.2" text-anchor="start" textLength="48.02" lengthAdjust="spacingAndGlyphs" stroke="#000" stroke-width="0.3">1 Jun 20:00</text>
<text x="1092" y="822" fill="#000" font-size="10.2" text-anchor="start" textLength="48.02" lengthAdjust="spacingAndGlyphs" stroke="#000" stroke-width="0.3">2 Jun 12:00</text>
<text x="1156" y="822" fill="#000" font-size="10.2" text-anchor="start" textLength="48.02" lengthAdjust="spacingAndGlyphs" stroke="#000" stroke-width="0.3">5 Jun 04:00</text>
<text x="1220" y="822" fill="#000" font-size="10.2" text-anchor="start" textLength="48.02" lengthAdjust="spacingAndGlyphs" stroke="#000" stroke-width="0.3">5 Jun 20:00</text>
<text x="1284" y="822" fill="#000" font-size="10.2" text-anchor="start" textLength="48.02" lengthAdjust="spacingAndGlyphs" stroke="#000" stroke-width="0.3">6 Jun 12:00</text>
<g id="toolbar">
<defs><pattern id="chk" width="2" height="2" patternUnits="userSpaceOnUse"><rect width="2" height="2" fill="#f0f0f0"/><rect width="1" height="1" fill="#fff"/><rect x="1" y="1" width="1" height="1" fill="#fff"/></pattern><linearGradient id="gold" x1="0" y1="0" x2="1" y2="1"><stop offset="0" stop-color="#e4ac12"/><stop offset=".45" stop-color="#ffd832"/><stop offset="1" stop-color="#cc900c"/></linearGradient><linearGradient id="lens" x1="0" y1="0" x2="0" y2="1"><stop offset="0" stop-color="#f4fbff"/><stop offset="1" stop-color="#c4e6f8"/></linearGradient><linearGradient id="grn" x1="0" y1="0" x2="0" y2="1"><stop offset="0" stop-color="#4fb02a"/><stop offset="1" stop-color="#2f8f12"/></linearGradient><linearGradient id="blu" x1="0" y1="0" x2="0" y2="1"><stop offset="0" stop-color="#2a62e0"/><stop offset="1" stop-color="#1a3fb8"/></linearGradient><linearGradient id="badge" x1="0" y1="0" x2="0" y2="1"><stop offset="0" stop-color="#ea4a30"/><stop offset="1" stop-color="#cf1f10"/></linearGradient><linearGradient id="clk" x1=".2" y1="0" x2=".8" y2="1"><stop offset="0" stop-color="#2f92f4"/><stop offset=".55" stop-color="#0f62d0"/><stop offset="1" stop-color="#063c9c"/></linearGradient><radialGradient id="plusg" cx=".5" cy=".45" r=".6"><stop offset="0" stop-color="#6cff7c"/><stop offset="1" stop-color="#0ed02a"/></radialGradient><linearGradient id="cloud" x1="0" y1="0" x2="0" y2="1"><stop offset="0" stop-color="#ffffff"/><stop offset="1" stop-color="#c5d6ee"/></linearGradient><linearGradient id="srv" x1="0" y1="0" x2="1" y2="0"><stop offset="0" stop-color="#0f8df5"/><stop offset="1" stop-color="#6ec3ff"/></linearGradient><linearGradient id="sig" x1="0" y1="0" x2=".6" y2="1"><stop offset="0" stop-color="#d4e8d4" stop-opacity=".55"/><stop offset=".5" stop-color="#a8d0a8" stop-opacity=".75"/><stop offset="1" stop-color="#2fa030" stop-opacity=".95"/></linearGradient><linearGradient id="gold2" x1="0" y1="0" x2="1" y2="0"><stop offset="0" stop-color="#e8b418"/><stop offset=".5" stop-color="#fff080"/><stop offset="1" stop-color="#e8b418"/></linearGradient><radialGradient id="stopg" cx=".5" cy=".6" r=".6"><stop offset="0" stop-color="#ff3a10"/><stop offset="1" stop-color="#c81808"/></radialGradient></defs>
<g class="cr">
<rect x="0" y="0" width="1655" height="1" fill="#fff"/>
<rect x="0" y="1" width="1655" height="25" fill="#f0f0f0"/>
<rect x="0" y="26" width="1654" height="1" fill="#a0a0a0"/>
<rect x="0" y="27" width="1653" height="1" fill="#696969"/>
<rect x="1654" y="26" width="1" height="2" fill="#f0f0f0"/>
<rect x="204" y="1" width="1" height="25" fill="#a0a0a0"/>
<rect x="205" y="1" width="1" height="25" fill="#fff"/>
<rect x="208" y="4" width="3" height="1" fill="#a0a0a0"/>
<rect x="208" y="6" width="3" height="1" fill="#a0a0a0"/>
<rect x="208" y="8" width="3" height="1" fill="#a0a0a0"/>
<rect x="208" y="10" width="3" height="1" fill="#a0a0a0"/>
<rect x="208" y="12" width="3" height="1" fill="#a0a0a0"/>
<rect x="208" y="14" width="3" height="1" fill="#a0a0a0"/>
<rect x="208" y="16" width="3" height="1" fill="#a0a0a0"/>
<rect x="208" y="18" width="3" height="1" fill="#a0a0a0"/>
<rect x="208" y="20" width="3" height="1" fill="#a0a0a0"/>
<rect x="208" y="22" width="3" height="1" fill="#a0a0a0"/>
<rect x="242" y="2" width="25" height="22" fill="url(#chk)"/>
<rect x="242" y="2" width="25" height="1" fill="#a0a0a0"/>
<rect x="242" y="2" width="1" height="22" fill="#a0a0a0"/>
<rect x="266" y="3" width="1" height="21" fill="#fff"/>
<rect x="243" y="23" width="24" height="1" fill="#fff"/>
<rect x="299" y="3" width="1" height="21" fill="#a0a0a0"/>
<rect x="389" y="3" width="1" height="21" fill="#a0a0a0"/>
<rect x="394" y="2" width="25" height="22" fill="url(#chk)"/>
<rect x="394" y="2" width="25" height="1" fill="#a0a0a0"/>
<rect x="394" y="2" width="1" height="22" fill="#a0a0a0"/>
<rect x="418" y="3" width="1" height="21" fill="#fff"/>
<rect x="395" y="23" width="24" height="1" fill="#fff"/>
<rect x="422" y="2" width="25" height="22" fill="url(#chk)"/>
<rect x="422" y="2" width="25" height="1" fill="#a0a0a0"/>
<rect x="422" y="2" width="1" height="22" fill="#a0a0a0"/>
<rect x="446" y="3" width="1" height="21" fill="#fff"/>
<rect x="423" y="23" width="24" height="1" fill="#fff"/>
<rect x="451" y="3" width="1" height="21" fill="#a0a0a0"/>
<rect x="572" y="1" width="1" height="25" fill="#a0a0a0"/>
<rect x="573" y="1" width="1" height="25" fill="#fff"/>
<rect x="576" y="4" width="3" height="1" fill="#a0a0a0"/>
<rect x="576" y="6" width="3" height="1" fill="#a0a0a0"/>
<rect x="576" y="8" width="3" height="1" fill="#a0a0a0"/>
<rect x="576" y="10" width="3" height="1" fill="#a0a0a0"/>
<rect x="576" y="12" width="3" height="1" fill="#a0a0a0"/>
<rect x="576" y="14" width="3" height="1" fill="#a0a0a0"/>
<rect x="576" y="16" width="3" height="1" fill="#a0a0a0"/>
<rect x="576" y="18" width="3" height="1" fill="#a0a0a0"/>
<rect x="576" y="20" width="3" height="1" fill="#a0a0a0"/>
<rect x="576" y="22" width="3" height="1" fill="#a0a0a0"/>
<rect x="582" y="2" width="25" height="22" fill="url(#chk)"/>
<rect x="582" y="2" width="25" height="1" fill="#a0a0a0"/>
<rect x="582" y="2" width="1" height="22" fill="#a0a0a0"/>
<rect x="606" y="3" width="1" height="21" fill="#fff"/>
<rect x="583" y="23" width="24" height="1" fill="#fff"/>
<rect x="639" y="3" width="1" height="21" fill="#a0a0a0"/>
<rect x="878" y="1" width="1" height="25" fill="#a0a0a0"/>
<rect x="879" y="1" width="1" height="25" fill="#fff"/>
<rect x="882" y="4" width="3" height="1" fill="#a0a0a0"/>
<rect x="882" y="6" width="3" height="1" fill="#a0a0a0"/>
<rect x="882" y="8" width="3" height="1" fill="#a0a0a0"/>
<rect x="882" y="10" width="3" height="1" fill="#a0a0a0"/>
<rect x="882" y="12" width="3" height="1" fill="#a0a0a0"/>
<rect x="882" y="14" width="3" height="1" fill="#a0a0a0"/>
<rect x="882" y="16" width="3" height="1" fill="#a0a0a0"/>
<rect x="882" y="18" width="3" height="1" fill="#a0a0a0"/>
<rect x="882" y="20" width="3" height="1" fill="#a0a0a0"/>
<rect x="882" y="22" width="3" height="1" fill="#a0a0a0"/>
<rect x="1028" y="2" width="25" height="22" fill="url(#chk)"/>
<rect x="1028" y="2" width="25" height="1" fill="#a0a0a0"/>
<rect x="1028" y="2" width="1" height="22" fill="#a0a0a0"/>
<rect x="1052" y="3" width="1" height="21" fill="#fff"/>
<rect x="1029" y="23" width="24" height="1" fill="#fff"/>
<rect x="1139" y="1" width="1" height="25" fill="#a0a0a0"/>
<rect x="1140" y="1" width="1" height="25" fill="#fff"/>
</g>
<text x="-3" y="16.7" font-size="12" fill="#000">新订单</text>
<text x="149" y="16.7" font-size="12" fill="#000">自动交易</text>
<text x="892.95" y="18" font-size="10.2" fill="#3c3c3c" textLength="13.65" lengthAdjust="spacingAndGlyphs">M1</text>
<text x="921.00" y="18" font-size="10.2" fill="#3c3c3c" textLength="13.60" lengthAdjust="spacingAndGlyphs">M5</text>
<text x="946.90" y="18" font-size="10.2" fill="#3c3c3c" textLength="18.70" lengthAdjust="spacingAndGlyphs">M15</text>
<text x="975.00" y="18" font-size="10.2" fill="#3c3c3c" textLength="18.60" lengthAdjust="spacingAndGlyphs">M30</text>
<text x="1005.90" y="18" font-size="10.2" fill="#3c3c3c" textLength="12.70" lengthAdjust="spacingAndGlyphs">H1</text>
<text x="1032.95" y="18" font-size="10.2" fill="#3c3c3c" textLength="13.45" lengthAdjust="spacingAndGlyphs">H4</text>
<text x="1061.90" y="18" font-size="10.2" fill="#3c3c3c" textLength="12.70" lengthAdjust="spacingAndGlyphs">D1</text>
<text x="1089.20" y="18" font-size="10.2" fill="#3c3c3c" textLength="15.40" lengthAdjust="spacingAndGlyphs">W1</text>
<text x="1115.90" y="18" font-size="10.2" fill="#3c3c3c" textLength="15.70" lengthAdjust="spacingAndGlyphs">MN</text>
<g stroke-linejoin="round"><path d="M60,13.2 L60.9,15.7 L52.9,21.6 L52.4,19.4 Z" fill="#d8c078" stroke="#9a6408" stroke-width=".8"/><path d="M45.2,15.4 L52.4,19.5 L52.9,21.6 L45.1,16.8 Z" fill="#f4d060" stroke="#a56a08" stroke-width=".8"/><path d="M50.9,7.2 L60,13.2 L52.4,19.5 L45.2,15.4 Q49.6,12.2 50.9,7.2 Z" fill="url(#gold)" stroke="#a56a08" stroke-width=".9"/><path d="M50.6,10.5 Q52,12.5 56.5,14.6" stroke="#fff2a0" stroke-width="1.2" fill="none" opacity=".55"/></g>
<g><path d="M75.2,6.6 L78.2,6 L86,7.4 L86,15.5 L75.2,15.5 Z" fill="#0f9bf5"/><path d="M78.8,9 L86,8 L86,15.5 L78.8,15.5 Z" fill="#36adff"/><path d="M75.6,6.9 L78.7,9.1 L78.7,15.5" stroke="#e8f6ff" stroke-width=".8" fill="none"/><path d="M80.2,11.3 L84.8,10.4" stroke="#fff" stroke-width="1.3"/><rect x="80" y="12.6" width="5.4" height="2" fill="#8fd0ff"/><path d="M75.4,21.6 C72.6,21.6 72.6,17.6 75.2,17.3 C75.2,15.4 77.8,15 78.8,16.2 C79.4,13.8 83.4,13.6 84.4,16 C85.8,14.8 88.2,15.6 87.8,17.8 C89.5,18.6 89.2,21.6 87,21.6 Z" fill="url(#cloud)" stroke="#3f5f9f" stroke-width=".9"/></g>
<g fill="none"><path d="M109,13.9 L109,6.2 A7.7,7.7 0 0 1 109,21.6 Z" fill="url(#sig)" stroke="none"/><g stroke="#3f6fd8" stroke-width="1" opacity=".5"><path d="M109,6.4 A7.5,7.5 0 0 0 109,21.4"/><path d="M109,8.8 A5.1,5.1 0 0 0 109,19"/><path d="M109,11.1 A2.8,2.8 0 0 0 109,16.7"/></g><g stroke="#3a78a8" stroke-width="1" opacity=".45"><path d="M109,6.4 A7.5,7.5 0 0 1 109,21.4"/><path d="M109,8.8 A5.1,5.1 0 0 1 109,19"/><path d="M109,11.1 A2.8,2.8 0 0 1 109,16.7"/></g><circle cx="108.8" cy="13.6" r="1.7" fill="#2456d0" stroke="none"/><path d="M109.6,14 L109.6,21.9" stroke="#22a022" stroke-width="1.3"/></g>
<g><path d="M128.6,13.2 L143.5,12.6 L137.4,21.8 L135,21.4 Z" fill="url(#gold2)" stroke="#c8980f" stroke-width=".6"/><path d="M128,10.6 C128,8.6 131,9 132.2,9.4 C132.4,5 139.6,4.8 140,9.2 C141.4,8.6 144.2,8.4 144,10.2 C143.6,12.4 139,13.6 135.6,13.4 C132,13.4 128,12.6 128,10.6 Z" fill="#4fa8dc" stroke="#2a86b8" stroke-width=".7"/><path d="M132.8,9.6 C133.2,6 139,5.8 139.4,9.4 C137.6,10.6 134.6,10.8 132.8,9.6 Z" fill="#8fd0f4"/><circle cx="140.5" cy="17.9" r="4.2" fill="url(#stopg)"/><rect x="138.8" y="16.2" width="3.4" height="3.4" fill="#fff"/></g>
<g class="cr" fill="#555"><rect x="222" y="8" width="1" height="14"/><rect x="220" y="19" width="14" height="1"/><rect x="221" y="9" width="3" height="1"/><rect x="232" y="18" width="1" height="3"/></g><g class="cr" fill="#555" opacity=".3"><rect x="220" y="10" width="5" height="1"/><rect x="231" y="17" width="1" height="5"/></g>
<g class="cr" fill="#0a8a1a"><rect x="228" y="9" width="1" height="9"/><rect x="229" y="9" width="1" height="9" opacity=".45"/><rect x="229" y="10" width="2" height="1"/><rect x="226" y="16" width="2" height="1"/></g>
<g class="cr" fill="#555"><rect x="250" y="8" width="1" height="14"/><rect x="248" y="19" width="14" height="1"/><rect x="249" y="9" width="3" height="1"/><rect x="260" y="18" width="1" height="3"/></g><g class="cr" fill="#555" opacity=".3"><rect x="248" y="10" width="5" height="1"/><rect x="259" y="17" width="1" height="5"/></g>
<g class="cr"><rect x="256" y="6" width="1" height="12" fill="#0a8a1a"/><rect x="254" y="8" width="5" height="8" fill="#0a8a1a"/><rect x="255" y="9" width="3" height="6" fill="#3ee05a"/><rect x="255" y="9" width="1" height="6" fill="#8af09a"/></g>
<g class="cr" fill="#555"><rect x="278" y="8" width="1" height="14"/><rect x="276" y="19" width="14" height="1"/><rect x="277" y="9" width="3" height="1"/><rect x="288" y="18" width="1" height="3"/></g><g class="cr" fill="#555" opacity=".3"><rect x="276" y="10" width="5" height="1"/><rect x="287" y="17" width="1" height="5"/></g>
<path d="M277.2,16.8 C280,14.5 281.5,11.2 283.4,11.2 C285.5,11.2 286.5,14.2 289,15.2" stroke="#2a8a2a" stroke-width="1.3" fill="none" opacity=".85"/>
<path d="M318.4,16.3 L322.6,20.5" stroke="#a87810" stroke-width="3.6"/><path d="M318.4,16.3 L322.2,20.1" stroke="#f2d648" stroke-width="1.7"/><circle cx="314" cy="12" r="5.5" fill="url(#lens)" stroke="#2f78c8" stroke-width="1.3"/><path d="M310.5,12 H317.5" stroke="#3a86b0" stroke-width="2"/><path d="M314,8.5 V15.5" stroke="#3a86b0" stroke-width="2"/>
<path d="M346.4,16.3 L350.6,20.5" stroke="#a87810" stroke-width="3.6"/><path d="M346.4,16.3 L350.2,20.1" stroke="#f2d648" stroke-width="1.7"/><circle cx="342" cy="12" r="5.5" fill="url(#lens)" stroke="#2f78c8" stroke-width="1.3"/><path d="M338.5,12 H345.5" stroke="#3a86b0" stroke-width="2"/>
<g class="cr"><rect x="364" y="6" width="8" height="8" fill="url(#grn)"/><rect x="365" y="7" width="1" height="1" fill="#d4ecc4"/><rect x="365" y="9" width="6" height="3" fill="#fff"/><rect x="365" y="12" width="1" height="1" fill="#fff"/><rect x="370" y="12" width="1" height="1" fill="#fff"/><rect x="366" y="10" width="4" height="1" fill="#b4e09a"/><rect x="372" y="6" width="8" height="8" fill="url(#blu)"/><rect x="373" y="7" width="1" height="1" fill="#c4d2ff"/><rect x="373" y="9" width="6" height="3" fill="#fff"/><rect x="373" y="12" width="1" height="1" fill="#fff"/><rect x="378" y="12" width="1" height="1" fill="#fff"/><rect x="374" y="10" width="1" height="1" fill="#9fb4f6"/><rect x="376" y="10" width="2" height="1" fill="#9fb4f6"/><rect x="364" y="14" width="8" height="8" fill="url(#blu)"/><rect x="365" y="15" width="1" height="1" fill="#c4d2ff"/><rect x="365" y="17" width="6" height="3" fill="#fff"/><rect x="365" y="20" width="1" height="1" fill="#fff"/><rect x="370" y="20" width="1" height="1" fill="#fff"/><rect x="366" y="18" width="1" height="1" fill="#9fb4f6"/><rect x="368" y="18" width="2" height="1" fill="#9fb4f6"/><rect x="372" y="14" width="8" height="8" fill="url(#grn)"/><rect x="373" y="15" width="1" height="1" fill="#d4ecc4"/><rect x="373" y="17" width="6" height="3" fill="#fff"/><rect x="373" y="20" width="1" height="1" fill="#fff"/><rect x="378" y="20" width="1" height="1" fill="#fff"/><rect x="374" y="18" width="4" height="1" fill="#b4e09a"/></g>
<g class="cr" fill="#555"><rect x="402" y="8" width="1" height="14"/><rect x="400" y="19" width="14" height="1"/><rect x="401" y="9" width="3" height="1"/><rect x="412" y="18" width="1" height="3"/></g><g class="cr" fill="#555" opacity=".3"><rect x="400" y="10" width="5" height="1"/><rect x="411" y="17" width="1" height="5"/></g>
<path d="M407.4,10.3 L411.2,13.4 L407.4,16.5 Z" fill="#c4f0c4" stroke="#18a018" stroke-width="1.1" stroke-linejoin="miter"/>
<g class="cr" fill="#555"><rect x="430" y="8" width="1" height="14"/><rect x="428" y="19" width="14" height="1"/><rect x="429" y="9" width="3" height="1"/><rect x="440" y="18" width="1" height="3"/></g><g class="cr" fill="#555" opacity=".3"><rect x="428" y="10" width="5" height="1"/><rect x="439" y="17" width="1" height="5"/></g>
<rect class="cr" x="436" y="8" width="1" height="11" fill="#1a70b8"/><path d="M437.4,13.5 L440.4,10.9 V16.1 Z" fill="#d8480a"/><path d="M439,13.5 H442.6" stroke="#d8480a" stroke-width="1.2"/>
<path d="M462,6.5 H469.6 L473,9.9 V18.6 Q473,19.4 472.2,19.4 H462 Q461.3,19.4 461.3,18.6 V7.3 Q461.3,6.5 462,6.5 Z" fill="#fbfbfb" stroke="#8c8c8c" stroke-width=".9"/><path d="M469.6,6.5 V9.9 H473" fill="#e4e4e4" stroke="#8c8c8c" stroke-width=".7"/><text x="463.3" y="16.6" font-size="10.5" fill="#4a4a3a" stroke="#4a4a3a" stroke-width=".2">f</text><path d="M469.4,12.6 H472.6 V16.9 H476.6 V19.6 H472.6 V23.6 H469.4 V19.6 H465.4 V16.9 H469.4 Z" fill="url(#plusg)" stroke="#0a9a10" stroke-width=".9" stroke-linejoin="round"/>
<g class="cr" fill="#000"><rect x="483" y="13" width="5" height="1"/><rect x="484" y="14" width="3" height="1"/><rect x="485" y="15" width="1" height="1"/></g>
<circle cx="507" cy="13.9" r="7.8" fill="url(#clk)"/><circle cx="507" cy="13.9" r="6.9" fill="none" stroke="#7fc0ff" stroke-width=".7" opacity=".55"/><circle cx="507" cy="13.9" r="5" fill="#f2f4f8" stroke="#0a3f9a" stroke-width=".5"/><path d="M506.8,10.6 V14.2 H509.6" stroke="#222" stroke-width="1.1" fill="none"/><g fill="#8c96a8"><rect x="506.6" y="9.8" width=".8" height=".8"/><rect x="506.4" y="17" width="1.2" height=".8" fill="#6aa8f0"/><rect x="502.8" y="13.6" width=".8" height=".8"/><rect x="510.4" y="13.6" width=".8" height=".8"/><rect x="504" y="10.8" width=".7" height=".7"/><rect x="509.4" y="10.8" width=".7" height=".7"/><rect x="504" y="16.4" width=".7" height=".7"/><rect x="509.4" y="16.4" width=".7" height=".7"/></g>
<g class="cr" fill="#000"><rect x="522" y="13" width="5" height="1"/><rect x="523" y="14" width="3" height="1"/><rect x="524" y="15" width="1" height="1"/></g>
<rect x="538.5" y="7.5" width="15" height="13" fill="#fff" stroke="#2f6fd0" stroke-width="1.1"/><rect x="539" y="8" width="14" height="1.6" fill="#5a9af0"/><path d="M539,14.5 H553" stroke="#2f6fd0" stroke-width="1"/><path d="M540.5,13 L543,12.2 L545,11.3 L547,12.4 L549,12.2 L551.5,11" stroke="#a82a10" stroke-width="1.1" fill="none"/><path d="M541.5,18.2 L544,17.6 L546,18.2 L548.5,16.2 L551,18.2" stroke="#1f9a2e" stroke-width="1.1" fill="none"/>
<g class="cr" fill="#000"><rect x="561" y="13" width="5" height="1"/><rect x="562" y="14" width="3" height="1"/><rect x="563" y="15" width="1" height="1"/></g>
<path d="M590.5,7 L590.5,18.5 L593.3,16 L595.6,21 L597.4,20.2 L595.2,15.4 L598.8,15.2 Z" fill="#505050"/>
<g class="cr" fill="#606060"><rect x="622" y="7" width="1" height="6"/><rect x="622" y="16" width="1" height="6"/><rect x="615" y="14" width="6" height="1"/><rect x="624" y="14" width="6" height="1"/><rect x="622" y="14" width="1" height="1"/></g>
<g class="cr" fill="#505050"><rect x="656" y="8" width="1" height="13"/><rect x="679" y="14" width="12" height="1"/></g>
<path d="M707,20.8 L719,8.8" stroke="#505050" stroke-width="1.1"/>
<g stroke="#484848" fill="none"><path d="M732.6,15.6 L740.8,8.1 M738,21 L747.2,12.2" stroke-width=".9"/><path d="M733.8,19.4 L746,9.2" stroke-width=".8" opacity=".7"/><path d="M735.6,13.8 L735,20.8 M738.8,11.6 L738.2,17.8 M742,9.9 L741.4,16.5 M744.9,6 L744.4,13.4" stroke-width="1.1"/></g>
<text x="743.7" y="22.8" font-size="6.6" font-weight="bold" fill="#404040">E</text>
<g class="cr" fill="#484848"><rect x="762" y="7" width="1" height="1"/><rect x="764" y="7" width="1" height="1"/><rect x="766" y="7" width="1" height="1"/><rect x="768" y="7" width="1" height="1"/><rect x="770" y="7" width="1" height="1"/><rect x="772" y="7" width="1" height="1"/><rect x="774" y="7" width="1" height="1"/><rect x="762" y="10" width="1" height="1"/><rect x="764" y="10" width="1" height="1"/><rect x="766" y="10" width="1" height="1"/><rect x="768" y="10" width="1" height="1"/><rect x="770" y="10" width="1" height="1"/><rect x="772" y="10" width="1" height="1"/><rect x="774" y="10" width="1" height="1"/><rect x="762" y="14" width="1" height="1"/><rect x="764" y="14" width="1" height="1"/><rect x="766" y="14" width="1" height="1"/><rect x="768" y="14" width="1" height="1"/><rect x="770" y="14" width="1" height="1"/><rect x="772" y="14" width="1" height="1"/><rect x="774" y="14" width="1" height="1"/><rect x="762" y="18" width="1" height="1"/><rect x="764" y="18" width="1" height="1"/><rect x="766" y="18" width="1" height="1"/><rect x="768" y="18" width="1" height="1"/><rect x="770" y="18" width="1" height="1"/></g>
<text x="771.8" y="22.8" font-size="6.6" font-weight="bold" fill="#404040">F</text>
<text x="796.7" y="19" font-size="12.3" fill="#555" text-anchor="middle" stroke="#555" stroke-width=".35">A</text>
<g class="cr" fill="#505050"><rect x="822" y="8" width="1" height="1"/><rect x="824" y="8" width="1" height="1"/><rect x="826" y="8" width="1" height="1"/><rect x="828" y="8" width="1" height="1"/><rect x="830" y="8" width="1" height="1"/><rect x="819" y="20" width="1" height="1"/><rect x="821" y="20" width="1" height="1"/><rect x="823" y="20" width="1" height="1"/><rect x="825" y="20" width="1" height="1"/><rect x="827" y="20" width="1" height="1"/><rect x="829" y="20" width="1" height="1"/><rect x="819" y="10" width="1" height="1"/><rect x="819" y="12" width="1" height="1"/><rect x="819" y="14" width="1" height="1"/><rect x="819" y="16" width="1" height="1"/><rect x="819" y="18" width="1" height="1"/><rect x="830" y="10" width="1" height="1"/><rect x="830" y="12" width="1" height="1"/><rect x="830" y="14" width="1" height="1"/><rect x="830" y="16" width="1" height="1"/><rect x="830" y="18" width="1" height="1"/><rect x="818" y="7" width="3" height="2"/><rect x="821" y="11" width="8" height="1" fill="#555"/><rect x="824" y="11" width="2" height="8" fill="#555"/><rect x="821" y="12" width="8" height="1" fill="#555" opacity=".35"/></g>
<g fill="#505050"><path d="M849.5,8 L853.1,11.5 L851.1,11.5 L851.1,12.7 L848,12.7 L848,11.5 L846,11.5 Z"/><path d="M856.6,20.9 L860.1,17.2 L858.2,17.2 L858.2,16.1 L855,16.1 L855,17.2 L853.1,17.2 Z"/></g><path d="M848.2,15.4 L850.5,17.6 L855.1,12.3" stroke="#505050" stroke-width="1.4" fill="none"/>
<g class="cr" fill="#000"><rect x="867" y="13" width="5" height="1"/><rect x="868" y="14" width="3" height="1"/><rect x="869" y="15" width="1" height="1"/></g>
<path d="M1606.4,14.8 L1602.4,19" stroke="#2a5bd0" stroke-width="2.6" stroke-linecap="round"/><circle cx="1609.6" cy="11.2" r="4.3" fill="#f6f9ff" stroke="#2a5bd0" stroke-width="1.2"/>
<path d="M1626.5,16 C1626.5,12 1630,11.2 1633,11.2 C1637,11.2 1639,13 1639,15.6 C1639,18.5 1636,19.6 1632.4,19.6 L1629.4,22.4 L1630,19.4 C1627.6,18.8 1626.5,17.6 1626.5,16 Z" fill="#e4e6ee" stroke="#a8a8a8" stroke-width=".8"/>
<circle cx="1640.3" cy="11.5" r="8.2" fill="url(#badge)"/>
<text x="1640" y="15.9" font-size="12.4" fill="#fff" text-anchor="middle" stroke="#fff" stroke-width=".5">1</text>
</g>
</svg></body></html>
